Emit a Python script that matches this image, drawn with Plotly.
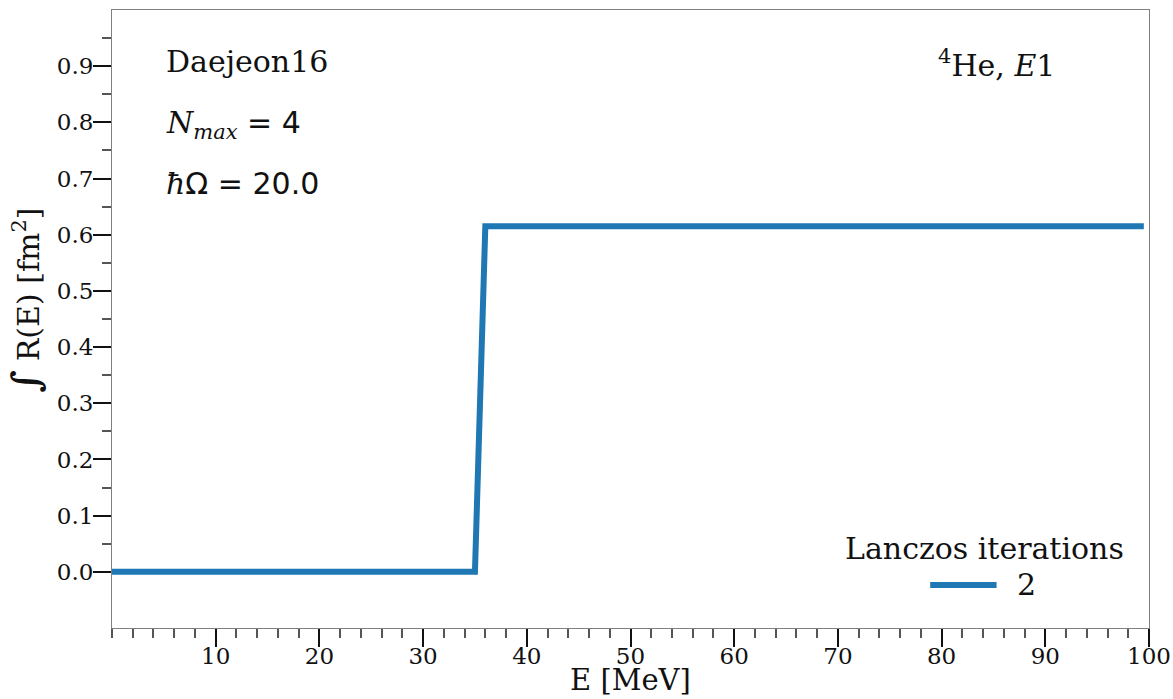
import plotly.graph_objects as go

# Data
energy_mev = [0.0, 35.0, 36.0, 99.5]
integrated_response = [0.0, 0.0, 0.615, 0.615]
series_name = "2"
legend_title = "Lanczos iterations"

x_tick_vals = [10, 20, 30, 40, 50, 60, 70, 80, 90, 100]
x_minor_vals = [v for v in range(0, 101, 2) if v % 10 != 0 or v == 0]
y_tick_vals = [0.0, 0.1, 0.2, 0.3, 0.4, 0.5, 0.6, 0.7, 0.8, 0.9]
y_tick_text = ["0.0", "0.1", "0.2", "0.3", "0.4", "0.5", "0.6", "0.7", "0.8", "0.9"]
y_minor_vals = [0.05, 0.15, 0.25, 0.35, 0.45, 0.55, 0.65, 0.75, 0.85, 0.95]

SERIF = "DejaVu Serif"
INK = "#111111"
SPINE = "#808080"
MINOR = "#555555"
LINE_COLOR = "#1f77b4"
TXT = 30
TICK = 23

fig = go.Figure()
fig.add_trace(go.Scatter(
    x=energy_mev, y=integrated_response, mode="lines", name=series_name,
    line=dict(color=LINE_COLOR, width=6), showlegend=False,
))

axis_common = dict(
    showgrid=False, zeroline=False, showline=True, linecolor=SPINE, linewidth=1,
    mirror=True, ticks="outside", ticklen=18, tickwidth=2, tickcolor=INK,
    tickfont=dict(family=SERIF, size=TICK, color=INK), automargin=False,
)

fig.update_layout(
    width=1173, height=699,
    margin=dict(l=112, r=24, t=10, b=71, pad=0),
    paper_bgcolor="white", plot_bgcolor="white",
    font=dict(family=SERIF, color=INK),
    xaxis=dict(
        range=[0, 100], tickmode="array", tickvals=x_tick_vals, ticklabelstandoff=-11,
        minor=dict(tickmode="array", tickvals=x_minor_vals, ticklen=9, tickwidth=1.5,
                   tickcolor=MINOR, ticks="outside"),
        **axis_common,
    ),
    yaxis=dict(
        range=[-0.1, 1.0], tickmode="array", tickvals=y_tick_vals, ticktext=y_tick_text,
        ticklabelstandoff=-5,
        minor=dict(tickmode="array", tickvals=y_minor_vals, ticklen=9, tickwidth=1.5,
                   tickcolor=MINOR, ticks="outside"),
        **axis_common,
    ),
    showlegend=False,
)

# Axis titles
fig.add_annotation(
    text="E [MeV]", xref="paper", yref="paper", x=0.5, y=-0.1149,
    xanchor="center", yanchor="bottom", showarrow=False,
    font=dict(family=SERIF, size=29, color=INK),
)
fig.add_annotation(
    text="<span style='font-size:38px'><b>∫</b></span> R(E) [fm<sup>2</sup>]",
    xref="paper", yref="paper", x=-0.083, y=0.531, textangle=-90,
    xanchor="center", yanchor="middle", showarrow=False,
    font=dict(family=SERIF, size=30, color=INK),
)

# Text boxes
fig.add_annotation(
    text="Daejeon16", xref="paper", yref="paper", x=0.05, y=0.916,
    xanchor="left", yanchor="middle", showarrow=False,
    font=dict(family=SERIF, size=TXT, color=INK),
)
fig.add_annotation(
    text="<i>N</i><sub><i>max</i></sub><span style='font-family:DejaVu Sans'> = 4</span>",
    xref="paper", yref="paper", x=0.05, y=0.814,
    xanchor="left", yanchor="middle", showarrow=False,
    font=dict(family=SERIF, size=TXT, color=INK),
)
fig.add_annotation(
    text="<i>ħ</i><span style='font-family:DejaVu Sans'>Ω = 20.0</span>",
    xref="paper", yref="paper", x=0.05, y=0.72,
    xanchor="left", yanchor="middle", showarrow=False,
    font=dict(family=SERIF, size=TXT, color=INK),
)
fig.add_annotation(
    text="<sup>4</sup>He, <i>E</i>1", xref="paper", yref="paper", x=0.911, y=0.914,
    xanchor="right", yanchor="middle", showarrow=False,
    font=dict(family=SERIF, size=TXT, color=INK),
)

# Legend (title, line sample, label) in the lower right corner
fig.add_annotation(
    text=legend_title, xref="paper", yref="paper", x=0.841, y=0.129,
    xanchor="center", yanchor="middle", showarrow=False,
    font=dict(family=SERIF, size=TXT, color=INK),
)
fig.add_shape(
    type="line", xref="paper", yref="paper", x0=0.789, x1=0.853, y0=0.0696, y1=0.0696,
    line=dict(color=LINE_COLOR, width=6),
)
fig.add_annotation(
    text=series_name, xref="paper", yref="paper", x=0.871, y=0.0696,
    xanchor="left", yanchor="middle", showarrow=False,
    font=dict(family=SERIF, size=TXT, color=INK),
)

fig.write_html("out.html")
